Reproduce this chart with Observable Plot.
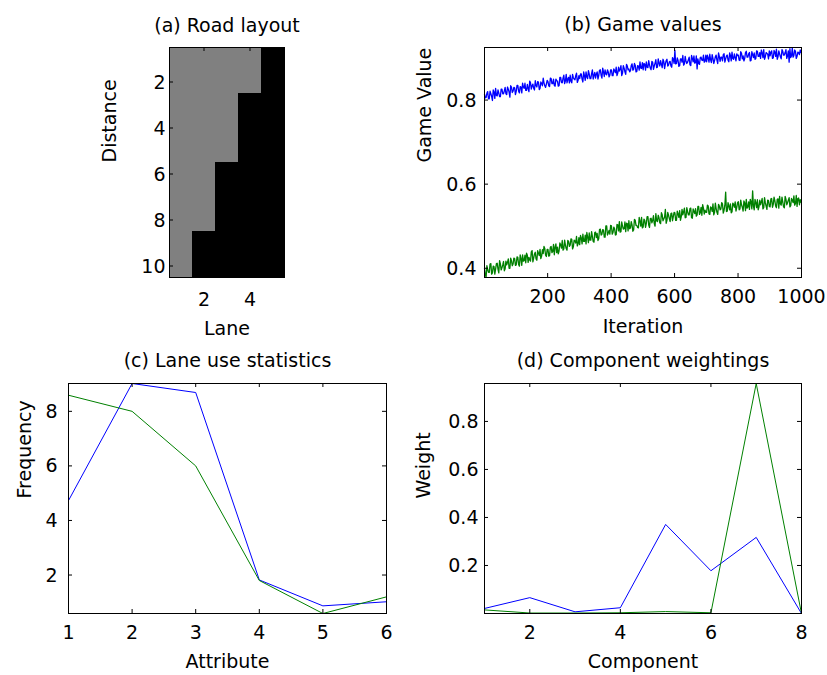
<!DOCTYPE html>
<html>
<head>
<meta charset="utf-8">
<script src="https://cdn.jsdelivr.net/npm/d3@7"></script>
<script src="https://cdn.jsdelivr.net/npm/@observablehq/plot@0.6"></script>
<style>
  body { margin: 0; background: #fff; }
  #fig { position: relative; width: 827px; height: 675px; background: #fff; overflow: hidden; }
</style>
</head>
<body>
<div id="fig"></div>
<script>
// ---------- (a) Road layout ----------
const lanes = [1, 2, 3, 4, 5];
const distances = [1, 2, 3, 4, 5, 6, 7, 8, 9, 10];
// 1 = road (gray), 0 = off-road (black); one row per distance
const roadLayout = [
  [1, 1, 1, 1, 0],
  [1, 1, 1, 1, 0],
  [1, 1, 1, 0, 0],
  [1, 1, 1, 0, 0],
  [1, 1, 1, 0, 0],
  [1, 1, 0, 0, 0],
  [1, 1, 0, 0, 0],
  [1, 1, 0, 0, 0],
  [1, 0, 0, 0, 0],
  [1, 0, 0, 0, 0]
];
const laneTicks = [2, 4];
const distanceTicks = [2, 4, 6, 8, 10];

// ---------- (b) Game values (read every 2.5 iterations from iteration 1) ----------
const iterationStart = 1;
const iterationStep = 2.5;
const gameValueBlue = [
  .814,.805,.806,.816,.820,.803,.803,.821,.815,.809,.799,.824,.819,.804,.828,.811,.810,.824,.817,.808,
  .808,.826,.826,.815,.815,.822,.830,.815,.813,.831,.826,.819,.807,.834,.831,.818,.821,.830,.829,.813,
  .821,.835,.835,.821,.817,.832,.831,.817,.840,.831,.828,.840,.823,.823,.837,.828,.820,.845,.841,.826,
  .834,.838,.828,.824,.846,.834,.831,.844,.843,.825,.828,.843,.840,.834,.852,.841,.834,.830,.838,.847,
  .844,.834,.832,.852,.851,.839,.839,.850,.835,.833,.850,.846,.845,.833,.834,.854,.854,.842,.841,.852,
  .859,.839,.846,.861,.841,.850,.854,.841,.859,.845,.841,.861,.853,.850,.848,.858,.864,.842,.847,.858,
  .851,.862,.862,.850,.843,.867,.858,.847,.867,.855,.851,.870,.862,.851,.851,.863,.872,.850,.859,.866,
  .852,.862,.867,.850,.858,.871,.872,.859,.852,.876,.867,.856,.872,.862,.860,.872,.867,.855,.859,.872,
  .872,.858,.858,.874,.870,.865,.878,.858,.864,.878,.869,.874,.882,.858,.864,.882,.876,.867,.861,.885,
  .881,.872,.874,.867,.870,.882,.886,.871,.873,.887,.883,.867,.868,.882,.881,.871,.891,.876,.875,.889,
  .872,.887,.885,.871,.891,.878,.877,.894,.883,.876,.872,.892,.890,.873,.881,.888,.896,.877,.878,.898,
  .888,.881,.894,.885,.877,.897,.892,.875,.886,.894,.897,.881,.883,.891,.892,.881,.878,.901,.897,.887,
  .918,.886,.887,.900,.894,.880,.882,.898,.898,.890,.906,.883,.886,.904,.893,.887,.890,.896,.902,.884,
  .882,.906,.899,.891,.905,.888,.889,.905,.874,.898,.887,.885,.901,.902,.895,.894,.907,.890,.892,.907,
  .891,.907,.900,.890,.909,.896,.889,.908,.899,.887,.894,.903,.907,.895,.887,.912,.904,.892,.902,.902,
  .893,.908,.910,.890,.898,.905,.907,.895,.891,.912,.906,.893,.914,.899,.897,.910,.901,.893,.910,.906,
  .907,.895,.894,.915,.911,.898,.905,.893,.899,.913,.916,.902,.902,.910,.913,.893,.894,.915,.908,.901,
  .912,.897,.899,.917,.916,.904,.904,.913,.899,.919,.912,.901,.920,.897,.903,.913,.911,.909,.898,.917,
  .905,.914,.917,.899,.900,.918,.914,.904,.921,.897,.903,.917,.910,.903,.898,.920,.916,.907,.907,.913,
  .920,.899,.905,.917,.890,.922,.901,.905,.924,.902,.906,.919,.916,.899,.904,.914,.913,.908,.919,.913
];
const gameValueGreen = [
  .400,.384,.379,.406,.397,.390,.390,.410,.411,.386,.389,.405,.404,.386,.398,.411,.412,.398,.389,.418,
  .411,.396,.401,.408,.416,.394,.399,.417,.408,.414,.422,.400,.400,.424,.418,.406,.410,.424,.423,.407,
  .408,.427,.426,.409,.405,.432,.423,.407,.432,.417,.418,.431,.413,.436,.431,.414,.426,.420,.417,.439,
  .442,.415,.424,.434,.438,.422,.419,.442,.436,.430,.445,.423,.429,.444,.435,.452,.447,.431,.428,.445,
  .445,.429,.430,.450,.452,.437,.440,.457,.432,.450,.458,.437,.450,.434,.441,.460,.456,.448,.466,.443,
  .446,.467,.455,.447,.443,.466,.464,.452,.455,.470,.469,.446,.451,.467,.465,.460,.476,.453,.458,.473,
  .456,.478,.472,.458,.481,.464,.464,.479,.458,.485,.474,.461,.484,.467,.467,.487,.476,.464,.462,.485,
  .486,.473,.483,.466,.470,.492,.493,.479,.481,.492,.491,.474,.474,.501,.501,.479,.484,.490,.481,.502,
  .501,.481,.485,.498,.494,.479,.480,.504,.503,.489,.511,.486,.487,.510,.500,.493,.494,.510,.487,.507,
  .506,.489,.513,.494,.496,.511,.503,.488,.491,.516,.514,.502,.502,.497,.496,.521,.512,.500,.521,.496,
  .498,.517,.514,.497,.507,.523,.523,.503,.497,.518,.519,.508,.514,.525,.506,.500,.530,.513,.511,.526,
  .520,.508,.506,.532,.527,.513,.517,.522,.540,.507,.514,.533,.526,.518,.511,.530,.531,.513,.523,.533,
  .532,.514,.514,.536,.529,.521,.537,.514,.522,.540,.527,.534,.543,.520,.521,.544,.535,.527,.527,.542,
  .543,.520,.519,.541,.535,.530,.542,.524,.527,.547,.547,.528,.532,.545,.526,.551,.543,.529,.538,.533,
  .533,.550,.548,.529,.528,.546,.544,.535,.553,.527,.533,.555,.542,.533,.528,.552,.548,.539,.541,.556,
  .553,.531,.538,.550,.581,.535,.536,.556,.548,.539,.553,.532,.534,.555,.552,.545,.558,.536,.545,.556,
  .558,.539,.541,.562,.551,.545,.536,.560,.555,.537,.564,.543,.546,.558,.540,.564,.558,.541,.584,.548,
  .539,.564,.556,.544,.563,.539,.546,.562,.551,.558,.566,.541,.544,.568,.556,.548,.540,.562,.561,.547,
  .546,.565,.566,.545,.552,.569,.561,.548,.544,.564,.565,.543,.571,.553,.550,.569,.558,.546,.544,.571,
  .564,.551,.556,.562,.568,.546,.549,.566,.562,.556,.572,.550,.554,.573,.547,.566,.567,.551,.563,.557
];
const iterationTicks = [200, 400, 600, 800, 1000];
const gameValueTicks = [0.4, 0.6, 0.8];

// ---------- (c) Lane use statistics ----------
const attributes = [1, 2, 3, 4, 5, 6];
const laneUseBlue = [4.73, 9.02, 8.69, 1.82, 0.87, 1.02];
const laneUseGreen = [8.59, 8.0, 6.0, 1.8, 0.59, 1.2];
const attributeTicks = [1, 2, 3, 4, 5, 6];
const frequencyTicks = [2, 4, 6, 8];

// ---------- (d) Component weightings ----------
const components = [1, 2, 3, 4, 5, 6, 7, 8];
const weightBlue = [0.021, 0.066, 0.007, 0.024, 0.371, 0.178, 0.317, 0.0];
const weightGreen = [0.015, 0.002, 0.002, 0.003, 0.008, 0.003, 0.958, 0.0];
const componentTicks = [2, 4, 6, 8];
const weightTicks = [0.2, 0.4, 0.6, 0.8];

// ---------- helpers ----------
const BLUE = "#0000ff", GREEN = "#008000";
const TICK = 4;
function baseStyle(left, top) {
  return {
    fontFamily: "'DejaVu Sans', sans-serif", fontSize: "19px", color: "black",
    background: "transparent", overflow: "visible",
    position: "absolute", left: left + "px", top: top + "px"
  };
}
function boxTicks(xt, yt, iw, ih) {
  return [
    Plot.tickX(xt, {x: d => d, insetTop: ih - TICK, stroke: "black", strokeWidth: 1}),
    Plot.tickX(xt, {x: d => d, insetBottom: ih - TICK, stroke: "black", strokeWidth: 1}),
    Plot.tickY(yt, {y: d => d, insetRight: iw - TICK, stroke: "black", strokeWidth: 1}),
    Plot.tickY(yt, {y: d => d, insetLeft: iw - TICK, stroke: "black", strokeWidth: 1})
  ];
}
function texts(title, xlabel, ylabel, o) {
  return [
    Plot.text([title], {text: d => d, frameAnchor: "top", dy: o.titleDy, lineAnchor: "bottom"}),
    Plot.text([xlabel], {text: d => d, frameAnchor: "bottom", dy: o.xDy, lineAnchor: "bottom"}),
    Plot.text([ylabel], {text: d => d, frameAnchor: "left", dx: o.yDx, rotate: -90, lineAnchor: "bottom"})
  ];
}
const fmt = d => String(d);
const fig = document.getElementById("fig");

// ---------- panel (a) ----------
const roadCells = roadLayout.flatMap((row, i) =>
  row.map((v, j) => ({lane: lanes[j], distance: distances[i], road: v})));
fig.append(Plot.plot({
  width: 240, height: 340,
  marginLeft: 89, marginRight: 36, marginTop: 47, marginBottom: 63,
  style: baseStyle(80, 0),
  x: {type: "band", domain: lanes, padding: 0, round: false, label: null},
  y: {type: "band", domain: distances, padding: 0, round: false, label: null},
  color: {type: "ordinal", domain: [0, 1], range: ["#000000", "#808080"]},
  marks: [
    Plot.cell(roadCells, {x: "lane", y: "distance", fill: "road", inset: 0}),
    Plot.frame({stroke: "black"}),
    ...boxTicks(laneTicks, distanceTicks, 115, 230),
    Plot.axisX({ticks: laneTicks, tickSize: 0, tickPadding: 15, tickFormat: fmt, label: null}),
    Plot.axisY({ticks: distanceTicks, tickSize: 0, tickPadding: 4, tickFormat: fmt, label: null, dy: 0.5}),
    ...texts("(a) Road layout", "Lane", "Distance", {titleDy: -15.5, xDy: 57, yDx: -54})
  ]
}));

// ---------- panel (b) ----------
const gameRows = gameValueBlue.map((v, i) => ({
  iteration: iterationStart + i * iterationStep, blue: v, green: gameValueGreen[i]
}));
fig.append(Plot.plot({
  width: 427, height: 340,
  marginLeft: 84, marginRight: 26, marginTop: 47, marginBottom: 63,
  style: baseStyle(400, 0),
  x: {domain: [1, 1000], label: null},
  y: {domain: [0.378, 0.925], label: null},
  marks: [
    Plot.lineY(gameRows, {x: "iteration", y: "blue", stroke: BLUE, strokeWidth: 1.3}),
    Plot.lineY(gameRows, {x: "iteration", y: "green", stroke: GREEN, strokeWidth: 1.3}),
    Plot.frame({stroke: "black"}),
    ...boxTicks(iterationTicks, gameValueTicks, 317, 230),
    Plot.axisX({ticks: iterationTicks, tickSize: 0, tickPadding: 12, tickFormat: fmt, label: null}),
    Plot.axisY({ticks: gameValueTicks, tickSize: 0, tickPadding: 8, tickFormat: fmt, label: null, dy: 0.5}),
    ...texts("(b) Game values", "Iteration", "Game Value", {titleDy: -17, xDy: 55, yDx: -54})
  ]
}));

// ---------- panel (c) ----------
const laneUseRows = attributes.map((a, i) => ({attribute: a, blue: laneUseBlue[i], green: laneUseGreen[i]}));
fig.append(Plot.plot({
  width: 400, height: 335,
  marginLeft: 68, marginRight: 14, marginTop: 43, marginBottom: 62,
  style: baseStyle(0, 340),
  x: {domain: [1, 6], label: null},
  y: {domain: [0.59, 9.02], label: null},
  marks: [
    Plot.lineY(laneUseRows, {x: "attribute", y: "blue", stroke: BLUE, strokeWidth: 1}),
    Plot.lineY(laneUseRows, {x: "attribute", y: "green", stroke: GREEN, strokeWidth: 1}),
    Plot.frame({stroke: "black"}),
    ...boxTicks(attributeTicks, frequencyTicks, 318, 230),
    Plot.axisX({ticks: attributeTicks, tickSize: 0, tickPadding: 12, tickFormat: fmt, label: null}),
    Plot.axisY({ticks: frequencyTicks, tickSize: 0, tickPadding: 11, tickFormat: fmt, label: null, dy: 0.5}),
    ...texts("(c) Lane use statistics", "Attribute", "Frequency", {titleDy: -17, xDy: 54, yDx: -38})
  ]
}));

// ---------- panel (d) ----------
const weightRows = components.map((c, i) => ({component: c, blue: weightBlue[i], green: weightGreen[i]}));
fig.append(Plot.plot({
  width: 427, height: 335,
  marginLeft: 84, marginRight: 26, marginTop: 43, marginBottom: 62,
  style: baseStyle(400, 340),
  x: {domain: [1, 8], label: null},
  y: {domain: [0, 0.958], label: null},
  marks: [
    Plot.lineY(weightRows, {x: "component", y: "blue", stroke: BLUE, strokeWidth: 1}),
    Plot.lineY(weightRows, {x: "component", y: "green", stroke: GREEN, strokeWidth: 1}),
    Plot.frame({stroke: "black"}),
    ...boxTicks(componentTicks, weightTicks, 317, 230),
    Plot.axisX({ticks: componentTicks, tickSize: 0, tickPadding: 12, tickFormat: fmt, label: null}),
    Plot.axisY({ticks: weightTicks, tickSize: 0, tickPadding: 6, tickFormat: fmt, label: null, dy: 0.5}),
    ...texts("(d) Component weightings", "Component", "Weight", {titleDy: -17, xDy: 54, yDx: -55})
  ]
}));
</script>
</body>
</html>
